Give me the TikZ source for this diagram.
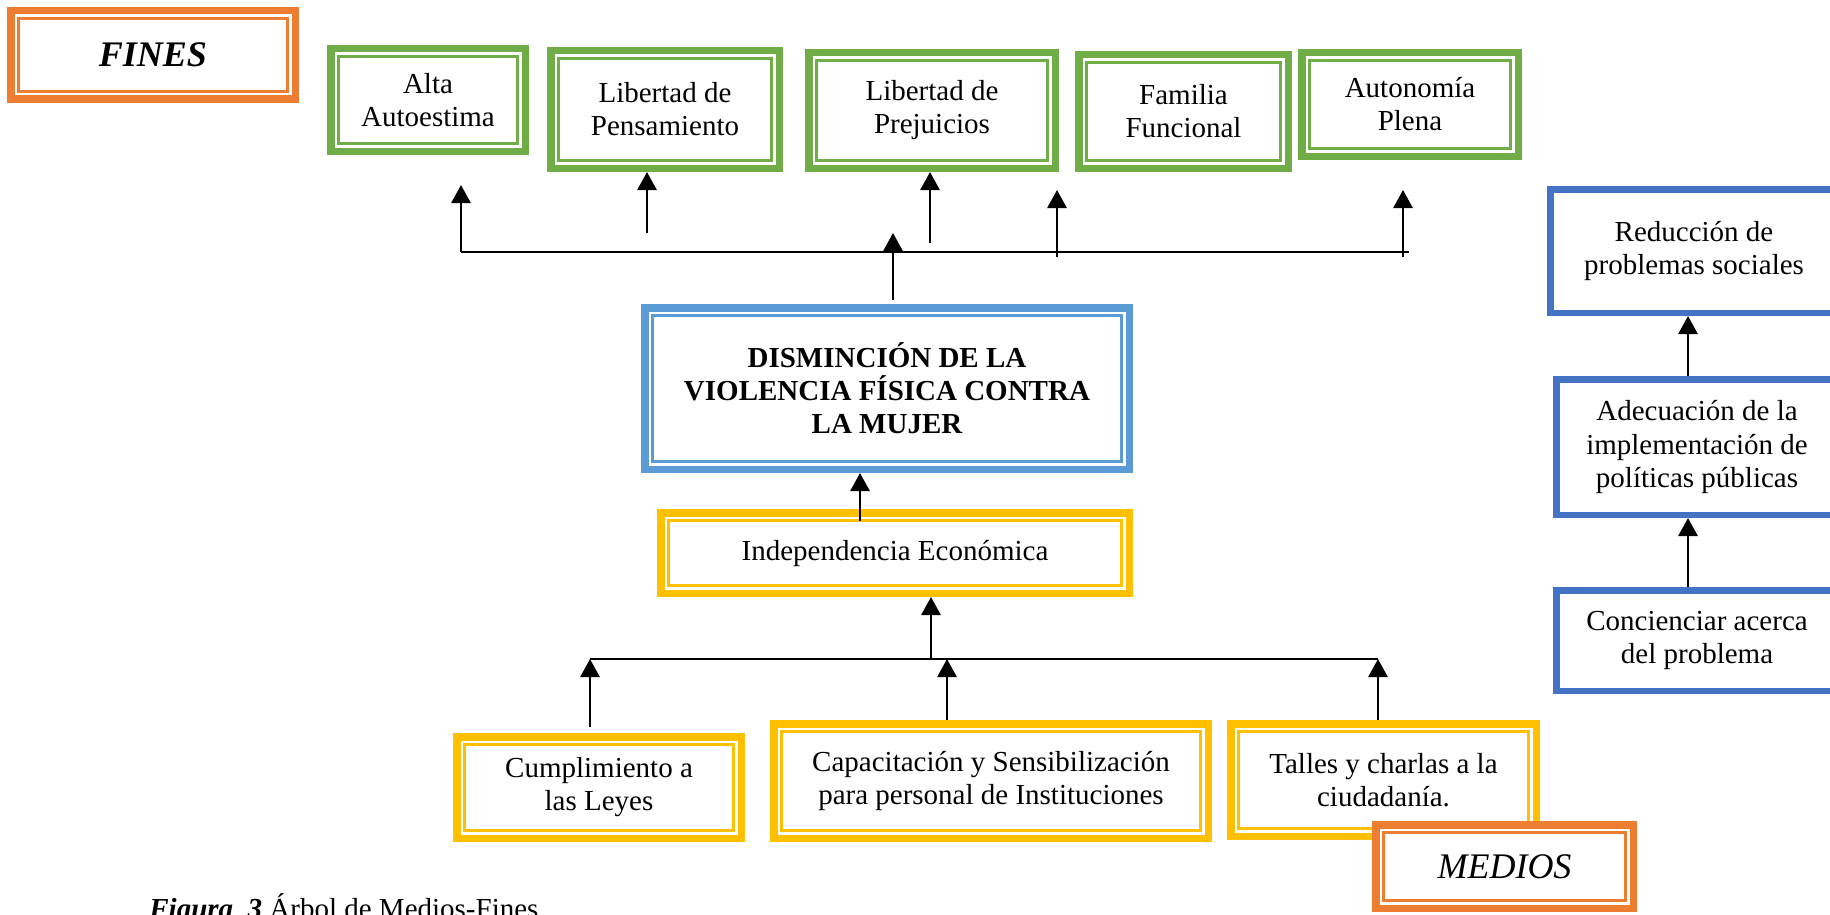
\documentclass[tikz,border=0pt]{standalone}
\usepackage{fontspec}
\setmainfont{Liberation Serif}
\usetikzlibrary{arrows.meta}

\definecolor{verde}{HTML}{70AD47}
\definecolor{amarillo}{HTML}{FFC000}
\definecolor{naranja}{HTML}{ED7D31}
\definecolor{celeste}{HTML}{5B9BD5}
\definecolor{azul}{HTML}{4472C4}

\tikzset{
  marco/.style={draw=#1, line width=3.75pt, fill=white, inner sep=2pt, align=center,
    font=\fontsize{14.5}{16.5}\selectfont},
  cuadro/.style={draw=#1, line width=3.25pt, fill=white, inner sep=2pt, align=center,
    font=\fontsize{14.5}{16.5}\selectfont},
  flecha/.style={-{Triangle[width=9.5pt,length=9pt]}, line width=1.4pt},
  linea/.style={line width=1.2pt}
}

\begin{document}
\begin{tikzpicture}[x=0.5pt, y=-0.5pt]
    \useasboundingbox (0,0) rectangle (1830,915);
    % fines
    \node[marco=naranja, minimum width=142.25pt, minimum height=44.25pt,
      font=\fontsize{18}{20}\selectfont\bfseries\itshape] (fines) at (153,55) {FINES};
    \node[marco=verde, minimum width=97.25pt, minimum height=51.25pt] (alta) at (428,100) {Alta\\Autoestima};
    \node[marco=verde, minimum width=114.25pt, minimum height=58.75pt] (pens) at (665,109.5) {Libertad de\\Pensamiento};
    \node[marco=verde, minimum width=123.25pt, minimum height=57.75pt] (prej) at (932,110.5) {Libertad de\\Prejuicios};
    \node[marco=verde, minimum width=104.75pt, minimum height=56.75pt] (fam) at (1183.5,111.5) {Familia\\Funcional};
    \node[marco=verde, minimum width=108.25pt, minimum height=51.75pt] (auto) at (1410,104.5) {Autonomía\\Plena};
    % problema central
    \node[marco=celeste, minimum width=242.25pt, minimum height=80.75pt,
      font=\fontsize{14.5}{16.5}\selectfont\bfseries] (dism) at (887,388.5)
      {DISMINCIÓN DE LA\\VIOLENCIA FÍSICA CONTRA\\LA MUJER};
    % medios
    \node[marco=amarillo, minimum width=234.25pt, minimum height=40.25pt] (indep) at (895,553) {Independencia Económica};
    \node[marco=amarillo, minimum width=142.25pt, minimum height=50.75pt] (cump) at (599,787.5) {Cumplimiento a\\las Leyes};
    \node[marco=amarillo, minimum width=217.25pt, minimum height=57.25pt] (capa) at (991,781) {Capacitación y Sensibilización\\para personal de Instituciones};
    \node[marco=amarillo, minimum width=152.75pt, minimum height=56.25pt] (tall) at (1383.5,780) {Talles y charlas a la\\ciudadanía.};
    % lado derecho
    \node[cuadro=azul, minimum width=143.75pt, minimum height=61.75pt] (redu) at (1694,251) {Reducción de\\problemas sociales};
    \node[cuadro=azul, minimum width=140.75pt, minimum height=67.75pt] (adec) at (1697,447) {Adecuación de la\\implementación de\\políticas públicas};
    \node[cuadro=azul, minimum width=140.75pt, minimum height=50.25pt] (conc) at (1697,640.5) {Concienciar acerca\\del problema};

    \foreach \n/\c in {fines/naranja, alta/verde, pens/verde, prej/verde, fam/verde, auto/verde,
        dism/celeste, indep/amarillo, cump/amarillo, capa/amarillo, tall/amarillo}
      \draw[\c, line width=1.5pt] ([shift={(5.75pt,5.75pt)}]\n.south west)
        rectangle ([shift={(-5.75pt,-5.75pt)}]\n.north east);

    % flechas de fines
    \coordinate (l1) at (461,252);
    \coordinate (l2) at (1409,252);
    \coordinate (p1) at (461,185);
    \coordinate (q2) at (647,233);
    \coordinate (q3) at (930,243);
    \coordinate (q4) at (1057,257);
    \coordinate (p4) at (1057,190);
    \coordinate (q5) at (1403,257);
    \coordinate (p5) at (1403,190);
    \coordinate (q6) at (893,300);
    \coordinate (p6) at (893,233);
    \coordinate (q7) at (860,521);
    \draw[linea] (l1) -- (l2);
    \draw[flecha] (l1) -- (p1);
    \draw[flecha] (q2) -- (q2 |- pens.south);
    \draw[flecha] (q3) -- (q3 |- prej.south);
    \draw[flecha] (q4) -- (p4);
    \draw[flecha] (q5) -- (p5);
    \draw[flecha] (q6) -- (p6);
    \draw[flecha] (q7) -- (q7 |- dism.south);

    % flechas de medios
    \coordinate (m1) at (590,659);
    \coordinate (m2) at (1378,659);
    \coordinate (m0) at (931,659);
    \coordinate (r1) at (590,727);
    \coordinate (r2) at (947,659);
    \draw[linea] (m1) -- (m2);
    \draw[flecha] (m0) -- (m0 |- indep.south);
    \draw[flecha] (r1) -- (m1);
    \draw[flecha] (capa.north -| r2) -- (r2);
    \draw[flecha] (tall.north -| m2) -- (m2);

    % lado derecho
    \coordinate (eje) at (1688,447);
    \draw[flecha] (adec.north -| eje) -- (redu.south -| eje);
    \draw[flecha] (conc.north -| eje) -- (adec.south -| eje);

    % etiqueta medios
    \node[marco=naranja, minimum width=128.75pt, minimum height=41.75pt,
      font=\fontsize{18}{20}\selectfont\itshape] (medios) at (1504.5,866.5) {MEDIOS};
    \draw[naranja, line width=1.5pt] ([shift={(5.75pt,5.75pt)}]medios.south west)
      rectangle ([shift={(-5.75pt,-5.75pt)}]medios.north east);

    \node[anchor=base west, inner sep=0pt, font=\fontsize{14.5}{16.5}\selectfont] (pie) at (149,918)
      {\textbf{\textit{Figura \ 3}} Árbol de Medios-Fines};
\end{tikzpicture}
\end{document}
